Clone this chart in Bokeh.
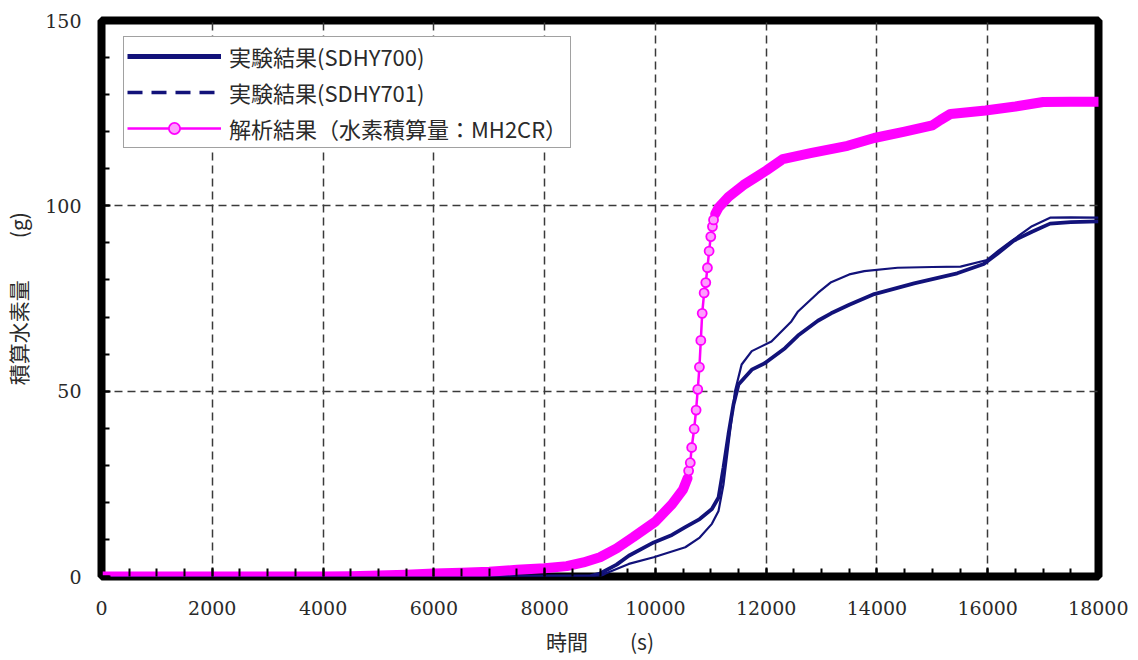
from bokeh.plotting import figure
from bokeh.models import ColumnDataSource, Legend, LegendItem, SingleIntervalTicker, Range1d
from bokeh.embed import file_html
from bokeh.resources import INLINE

# ---- data ----
# 解析結果（水素積算量：MH2CR）
analysis_time = [0, 1000, 2000, 3000, 4000, 4500, 5000, 5500, 6000, 6500, 7000, 7500,
                 8000, 8400, 8700, 9000, 9300, 9600, 10000, 10300, 10500, 10580,
                 10600, 10630, 10655, 10700, 10735, 10765, 10795, 10820, 10845, 10880,
                 10910, 10940, 10970, 11000, 11030, 11050,
                 11080, 11140, 11320, 11590, 12000, 12300, 12800, 13470, 13950, 14500,
                 15000, 15150, 15330, 15960, 16500, 17000, 17500, 18000]
analysis_h2 = [0, 0, 0, 0, 0, 0.1, 0.3, 0.5, 0.8, 1.0, 1.3, 1.8,
               2.2, 2.8, 3.8, 5.2, 7.6, 10.6, 14.8, 19.5, 23.5, 26.5,
               28.5, 30.7, 34.8, 39.8, 44.9, 50.5, 56.5, 63.7, 71.0, 76.5,
               79.3, 83.3, 87.8, 91.7, 94.4, 96.2,
               97.8, 99.5, 102.4, 105.6, 109.5, 112.6, 114.2, 116.2, 118.3, 120.0,
               121.7, 123.2, 124.8, 125.7, 126.8, 128.0, 128.1, 128.1]

# 実験結果(SDHY700)
sdhy700_time = [0, 8800, 9000, 9300, 9520, 9970, 10300, 10540, 10800, 11020, 11140,
                11230, 11320, 11410, 11500, 11740, 11980, 12340, 12575, 12934, 13173,
                13500, 13952, 14671, 15449, 15928, 16168, 16467, 16800, 17126, 17500, 18000]
sdhy700_h2 = [0, 0, 0.8, 3.2, 5.6, 9.2, 11.2, 13.3, 15.5, 18.2, 21.3,
              29.4, 38.4, 46.4, 51.8, 55.8, 57.6, 61.6, 65.0, 69.0, 71.0,
              73.3, 76.2, 79.1, 81.8, 84.3, 87.0, 90.6, 93.0, 95.2, 95.6, 95.8]

# 実験結果(SDHY701)
sdhy701_time = [0, 9000, 9100, 9520, 9970, 10540, 10800, 11020, 11140, 11230, 11320,
                11437, 11557, 11740, 12095, 12455, 12575, 12934, 13173, 13500, 13772,
                14371, 15000, 15509, 15988, 16200, 16407, 16800, 17126, 17500, 18000]
sdhy701_h2 = [0, 0, 0.8, 3.4, 5.2, 7.9, 10.5, 14.2, 17.7, 24.9, 35.7,
              50.0, 57.2, 60.8, 63.4, 68.8, 71.5, 76.5, 79.4, 81.5, 82.4,
              83.3, 83.5, 83.6, 85.4, 88.0, 90.3, 94.5, 96.8, 96.9, 96.8]

x_ticks_interval = 2000
y_ticks_interval = 50

NAVY = "#12127a"
MAGENTA = "#ff00ff"
JP_FONT = "Noto Sans CJK JP"
NUM_FONT = "DejaVu Serif"

# steep part of the analysis curve is drawn with visible markers,
# dense parts appear as a thick band
i0 = next(i for i, h in enumerate(analysis_h2) if h >= 27.5)
i1 = max(i for i, h in enumerate(analysis_h2) if h <= 97.0)

src_low = ColumnDataSource(dict(x=analysis_time[:i0], y=analysis_h2[:i0]))
src_steep_line = ColumnDataSource(dict(x=analysis_time[i0 - 1:i1 + 2], y=analysis_h2[i0 - 1:i1 + 2]))
src_steep = ColumnDataSource(dict(x=analysis_time[i0:i1 + 1], y=analysis_h2[i0:i1 + 1]))
src_high = ColumnDataSource(dict(x=analysis_time[i1 + 1:], y=analysis_h2[i1 + 1:]))
src700 = ColumnDataSource(dict(x=sdhy700_time, y=sdhy700_h2))
src701 = ColumnDataSource(dict(x=sdhy701_time, y=sdhy701_h2))
# legend-only glyphs (one undrawable point so the legend has a sample)
src_leg = ColumnDataSource(dict(x=[float("nan")], y=[float("nan")]))

p = figure(frame_width=997, frame_height=556,
           x_range=Range1d(0, 18000), y_range=Range1d(0, 150),
           output_backend="svg", toolbar_location=None,
           min_border_left=97, min_border_right=30, min_border_top=20, min_border_bottom=80)
p.background_fill_color = "white"
p.border_fill_color = "white"
p.outline_line_color = "black"
p.outline_line_width = 8

p.xaxis.ticker = SingleIntervalTicker(interval=x_ticks_interval, num_minor_ticks=4)
p.yaxis.ticker = SingleIntervalTicker(interval=y_ticks_interval, num_minor_ticks=5)

for ax in (p.xaxis, p.yaxis):
    ax.axis_line_color = None
    ax.major_tick_in = 9
    ax.major_tick_out = 0
    ax.minor_tick_in = 8
    ax.minor_tick_out = 0
    ax.major_tick_line_width = 2
    ax.minor_tick_line_width = 2
    ax.major_tick_line_color = "black"
    ax.minor_tick_line_color = "black"
    ax.major_label_text_font = NUM_FONT
    ax.major_label_text_font_size = "19px"
    ax.major_label_text_color = "#2a2a2a"
    ax.axis_label_text_font = JP_FONT
    ax.axis_label_text_font_size = "21px"
    ax.axis_label_text_font_style = "normal"
    ax.axis_label_text_color = "#2a2a2a"

p.xaxis.major_label_standoff = 24
p.yaxis.major_label_standoff = 20
p.xaxis.axis_label = "時間　　(s)"
p.yaxis.axis_label = "積算水素量　　(g)"
p.xaxis.axis_label_standoff = 8
p.yaxis.axis_label_standoff = 9

for g in (p.xgrid, p.ygrid):
    g.grid_line_color = "#3a3a3a"
    g.grid_line_dash = "8 5"
    g.grid_line_width = 1.5

# experiment curves
p.line("x", "y", source=src701, line_color=NAVY, line_width=2.2)
p.line("x", "y", source=src700, line_color=NAVY, line_width=3.8)

# analysis curve
p.line("x", "y", source=src_low, line_color=MAGENTA, line_width=10, line_cap="round", line_join="round")
p.line("x", "y", source=src_high, line_color=MAGENTA, line_width=10, line_cap="round", line_join="round")
p.line("x", "y", source=src_steep_line, line_color=MAGENTA, line_width=2.5)
p.scatter("x", "y", source=src_steep, marker="circle", size=9,
          line_color=MAGENTA, line_width=1.8, fill_color="#ff9cff")

# legend glyphs
lg700 = p.line("x", "y", source=src_leg, line_color=NAVY, line_width=5)
lg701 = p.line("x", "y", source=src_leg, line_color=NAVY, line_width=3.5, line_dash="15 9")
lgan_l = p.line("x", "y", source=src_leg, line_color=MAGENTA, line_width=2.5)
lgan_p = p.scatter("x", "y", source=src_leg, marker="circle", size=9,
                   line_color=MAGENTA, line_width=1.8, fill_color="#ff9cff")

legend = Legend(items=[
    LegendItem(label="実験結果(SDHY700)", renderers=[lg700], index=0),
    LegendItem(label="実験結果(SDHY701)", renderers=[lg701], index=0),
    LegendItem(label="解析結果（水素積算量：MH2CR）", renderers=[lgan_l, lgan_p], index=0),
], location=(22, 428))
legend.margin = 0
legend.padding = 3
legend.spacing = 4
legend.glyph_width = 94
legend.glyph_height = 28
legend.label_height = 28
legend.label_standoff = 8
legend.label_text_font = JP_FONT
legend.label_text_font_size = "22px"
legend.label_text_color = "#2a2a2a"
legend.border_line_color = "#444444"
legend.border_line_width = 1.5
legend.background_fill_color = "white"
legend.background_fill_alpha = 1.0
p.add_layout(legend)

open("out.html", "w").write(file_html(p, INLINE))
